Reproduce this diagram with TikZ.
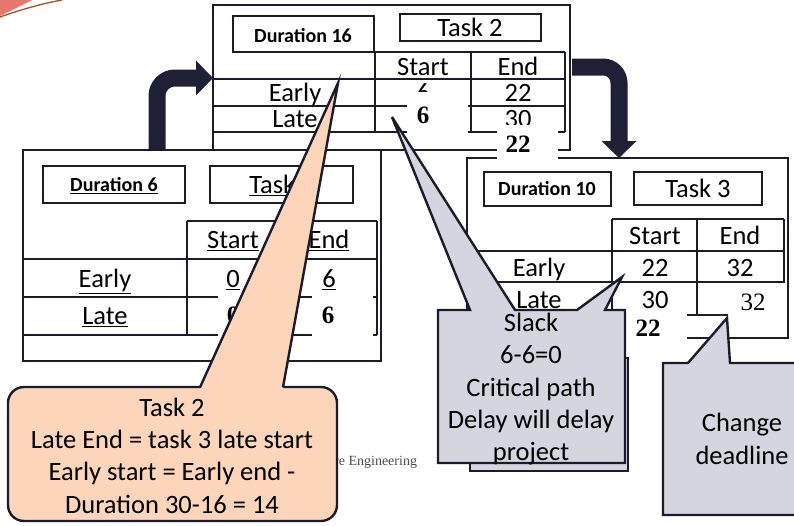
\documentclass[tikz,border=0pt]{standalone}
\usepackage{fontspec}
\setmainfont{Carlito}
\newfontfamily\tnr{Liberation Serif}
\usetikzlibrary{fit,arrows.meta}
\definecolor{dk}{HTML}{1B1B2B}
\definecolor{arrc}{HTML}{1F2035}
\definecolor{peach}{HTML}{FDD5BA}
\definecolor{lav}{HTML}{D5D5DF}
\definecolor{swr}{HTML}{E8776F}
\definecolor{swl}{HTML}{A8502E}
\begin{document}
\begin{tikzpicture}[x=1pt,y=-1pt,
 box/.style={draw=dk,line width=2.6pt,fill=white,inner sep=0pt},
 ln/.style={draw=dk,line width=2.6pt},
 txt/.style={inner sep=0pt,font=\fontsize{26.5}{31}\selectfont,text height=17pt,text depth=0pt},
 dur/.style={inner sep=0pt,font=\bfseries\fontsize{20}{24}\selectfont,text height=13pt,text depth=0pt},
 bnum/.style={inner sep=0pt,font=\tnr\bfseries\fontsize{25}{30}\selectfont,text height=17pt,text depth=0pt},
 rnum/.style={inner sep=0pt,font=\tnr\fontsize{25}{30}\selectfont,text height=17pt,text depth=0pt},
 patch/.style={fill=white,draw=none,inner sep=0pt},
 bigarrow/.style={draw=arrc,line width=17pt,-{Triangle[length=17pt,width=34pt]}},
 callout/.style={draw=dk,line width=2.4pt,line join=miter},
]
\fill[white] (0,0) rectangle (794,525);
\useasboundingbox (0,0) rectangle (794,525);
% corner swoosh
\fill[swr] (0,0) -- (32,0) -- (0,16) -- cycle;
\draw[swl,line width=1.3pt] (0,17) .. controls (20,10) and (40,4) .. (62,0);

% ---------------- Task 2 ----------------
\node[box,fit={(213,5) (570,150)}] (t2) {};
\node[box,fit={(233,16) (374,52)}] (d16) {};
\node[dur] (d16t) at (303,36) {Duration 16};
\node[box,fit={(400,14) (541,41)}] (t2n) {};
\node[txt] (t2nt) at (470,28) {Task 2};
\draw[ln] (375,52) -- (565,52);
\draw[ln] (213,79) -- (565,79);
\draw[ln] (213,106) -- (565,106);
\draw[ln] (213,132) -- (565,132);
\draw[ln] (375,52) -- (375,132);
\draw[ln] (471,52) -- (471,132);
\draw[ln] (565,52) -- (565,132);
\node[txt] (t2s) at (423,67) {Start};
\node[txt] (t2e) at (518,67) {End};
\node[txt] (t2ey) at (295,93) {Early};
\node[txt] (t2lt) at (295,119) {Late};
\node[txt] (t2es) at (423,93) {6};
\node[txt] (t2ee) at (518,93) {22};
\node[txt] (t2le) at (518,119) {30};

% ---------------- arrows ----------------
\coordinate (a1s) at (157,153);
\coordinate (a1e) at (213,78);
\draw[bigarrow,rounded corners=18pt] (a1s) |- (a1e);
\coordinate (a2s) at (572,67);
\coordinate (a2e) at (619,158);
\draw[bigarrow,rounded corners=16pt] (a2s) -| (a2e);

% ---------------- Task 1 ----------------
\node[box,fit={(23,150) (381,361)}] (t1) {};
\node[box,fit={(43,166) (185,203)}] (d6) {};
\node[dur] (d6t) at (114,185) {\underline{Duration 6}};
\node[box,fit={(210,166) (353,203)}] (t1n) {};
\node[txt] (t1nt) at (282,185) {\underline{Task 1}};
\draw[ln] (187,221) -- (377,221);
\draw[ln] (23,259) -- (377,259);
\draw[ln] (23,297) -- (377,297);
\draw[ln] (23,335) -- (377,335);
\draw[ln] (187,221) -- (187,335);
\draw[ln] (281,221) -- (281,335);
\draw[ln] (377,221) -- (377,335);
\node[txt] (t1s) at (233,240) {\underline{Start}};
\node[txt] (t1e) at (329,240) {\underline{End}};
\node[txt] (t1ey) at (105,279) {\underline{Early}};
\node[txt] (t1lt) at (105,316) {\underline{Late}};
\node[txt] (t1es) at (233,279) {\underline{0}};
\node[txt] (t1ee) at (329,279) {\underline{6}};

% ---------------- Task 3 ----------------
\node[box,fit={(467,158) (788,338)}] (t3) {};
\node[box,fit={(484,172) (611,206)}] (d10) {};
\node[dur] (d10t) at (547,189) {Duration 10};
\node[box,fit={(634,172) (762,205)}] (t3n) {};
\node[txt] (t3nt) at (698,189) {Task 3};
\draw[ln] (612,219) -- (784,219);
\draw[ln] (467,251) -- (784,251);
\draw[ln] (467,282) -- (784,282);
\draw[ln] (467,315) -- (784,315);
\draw[ln] (612,219) -- (612,315);
\draw[ln] (697,219) -- (697,315);
\draw[ln] (784,219) -- (784,315);
\node[txt] (t3s) at (655,236) {Start};
\node[txt] (t3e) at (740,236) {End};
\node[txt] (t3ey) at (539,268) {Early};
\node[txt] (t3lt) at (539,300) {Late};
\node[txt] (t3es) at (655,268) {22};
\node[txt] (t3ee) at (740,268) {32};
\node[txt] (t3ls) at (655,300) {30};

% ---------------- white patches ----------------
\node[patch,fit={(407,92) (468,140)}] (p1) {};
\node[bnum] (p1n) at (423,115) {6};
\node[patch,fit={(497,125) (558,163)}] (p2) {};
\node[bnum] (p2n) at (518,144) {22};
\node[patch,fit={(218,294) (292,338)}] (p3) {};
\node[bnum] (p3n) at (233,315) {0};
\node[patch,fit={(312,294) (373,338)}] (p4) {};
\node[bnum] (p4n) at (328,315) {6};
\node[patch,fit={(612,313) (687,348)}] (p5) {};
\node[bnum] (p5n) at (648,328) {22};
\node[patch,fit={(728,283) (786,336)}] (p6) {};
\node[rnum] (p6n) at (753,302) {32};

% ---------------- footer ----------------
\node[inner sep=0pt,anchor=west,font=\tnr\fontsize{14}{16}\selectfont,text=black!70] (foot) at (334,462) {re Engineering};

% ---------------- orange callout ----------------
\draw[callout,fill=peach,rounded corners=16pt] (8,387) rectangle (337,521);
\fill[peach] (200,389.5) -- (338,83) -- (283,389.5) -- cycle;
\draw[callout] (200,387.3) -- (338,83) -- (283,387.3);
\node[txt] (o1) at (172,408) {Task 2};
\node[txt] (o2) at (172,440) {Late End = task 3 late start};
\node[txt] (o3) at (172,472) {Early start = Early end -};
\node[txt] (o4) at (172,505) {Duration 30-16 = 14};

% ---------------- slack callout ----------------
\draw[callout,fill=lav] (470,358) rectangle (628,471);
\draw[callout,fill=lav] (438,310) -- (470,310) -- (392,117) -- (515,310) -- (577,310) -- (622,277) -- (605,310) -- (625,310) -- (625,463) -- (438,463) -- cycle;
\node[txt] (s1) at (531,323) {Slack};
\node[txt] (s2) at (531,355) {6-6=0};
\node[txt] (s3) at (531,388) {Critical path};
\node[txt] (s4) at (531,420) {Delay will delay};
\node[txt] (s5) at (531,452) {project};

% ---------------- change deadline callout ----------------
\draw[callout,fill=lav] (663,363) -- (688,363) -- (727,318) -- (730,363) -- (797,363) -- (797,515) -- (663,515) -- cycle;
\node[txt] (c1) at (742,423) {Change};
\node[txt] (c2) at (742,456) {deadline};
\end{tikzpicture}
\end{document}
